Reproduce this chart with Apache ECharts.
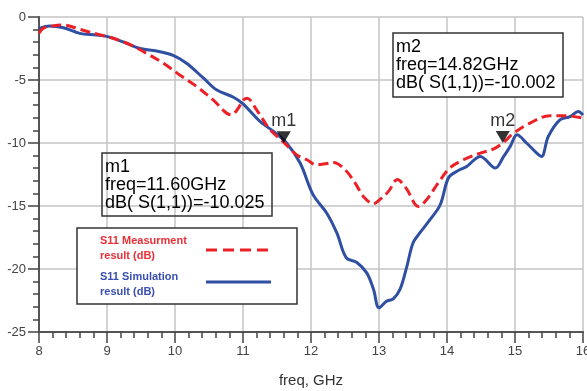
<!DOCTYPE html>
<html><head><meta charset="utf-8">
<script src="https://cdn.jsdelivr.net/npm/echarts@6/dist/echarts.min.js"></script>
<style>html,body{margin:0;padding:0;background:#fff}#c{width:587px;height:391px}</style>
</head><body><div id="c"></div>
<script>
// ---- data ----
const measFreq = [8.00,8.06,8.20,8.36,8.60,8.85,9.09,9.34,9.58,9.83,10.07,10.32,10.56,10.83,10.93,11.00,11.06,11.20,11.40,11.60,11.79,11.94,12.08,12.20,12.33,12.50,12.65,12.77,12.92,13.01,13.14,13.27,13.40,13.58,13.70,13.87,14.04,14.24,14.49,14.68,14.82,14.98,15.22,15.51,15.76,16.00];
const measDB   = [-1.30,-0.90,-0.72,-0.63,-0.98,-1.35,-1.69,-2.20,-2.88,-3.67,-4.60,-5.52,-6.58,-7.77,-7.24,-6.60,-6.44,-7.37,-8.95,-9.95,-10.94,-11.33,-11.73,-11.65,-11.54,-12.12,-13.18,-14.24,-14.82,-14.50,-13.84,-12.90,-13.60,-15.03,-14.50,-13.18,-11.99,-11.33,-10.80,-10.48,-10.00,-9.22,-8.42,-7.84,-7.84,-8.03];
const simFreq  = [8.00,8.16,8.36,8.60,8.85,9.04,9.29,9.49,9.73,9.98,10.17,10.42,10.61,10.86,11.00,11.25,11.45,11.64,11.84,12.03,12.23,12.38,12.52,12.67,12.82,12.92,13.00,13.11,13.21,13.31,13.41,13.50,13.60,13.75,13.90,14.02,14.14,14.29,14.49,14.71,14.83,14.93,15.03,15.17,15.32,15.39,15.49,15.66,15.81,15.93,16.00];
const simDB    = [-0.90,-0.71,-0.85,-1.30,-1.43,-1.60,-2.10,-2.50,-2.70,-3.06,-3.67,-4.86,-5.78,-6.37,-6.90,-8.29,-9.09,-10.00,-11.59,-14.10,-15.55,-17.14,-19.12,-19.46,-20.31,-21.63,-23.08,-22.56,-22.37,-21.60,-19.79,-17.93,-17.14,-16.09,-14.90,-12.78,-12.26,-11.86,-11.07,-11.99,-11.10,-10.27,-9.35,-10.00,-10.80,-11.07,-9.48,-8.16,-7.90,-7.50,-7.77];
const markerNames = ['m1','m2'];
const markerFreq  = [11.60, 14.82];
const markerDB    = [-10.025, -10.002];
const seriesNames = ['S11 Measurment\nresult (dB)', 'S11 Simulation\nresult (dB)'];
const xLabel = 'freq, GHz';

const FONT = 'Arial, "Liberation Sans", sans-serif';
const RED = '#ec2027', BLUE = '#2f4fa3';
const zip = (a,b) => a.map((v,i)=>[v,b[i]]);
const boxText = i => markerNames[i] + '\nfreq=' + markerFreq[i].toFixed(2) + 'GHz\ndB( S(1,1))=' + markerDB[i].toFixed(3);

const chart = echarts.init(document.getElementById('c'), null, {renderer:'canvas'});
chart.setOption({
  animation:false,
  backgroundColor:'#fff',
  grid:{left:39,right:4,top:17,bottom:59,containLabel:false,outerBoundsMode:'none'},
  xAxis:{type:'value',min:8,max:16,interval:1,
    name:xLabel,nameLocation:'middle',nameGap:41,
    nameTextStyle:{fontFamily:FONT,fontSize:15,color:'#333'},
    axisLine:{show:true,onZero:false,lineStyle:{color:'#555',width:2}},
    axisTick:{show:true,inside:false,length:11,lineStyle:{color:'#444',width:1.5}},
    minorTick:{show:true,splitNumber:5,length:6,lineStyle:{color:'#444',width:1.5}},
    axisLabel:{margin:13,fontFamily:FONT,fontSize:13,color:'#444',hideOverlap:false},
    splitLine:{show:true,lineStyle:{color:'#c4c4c4',width:1.5}}},
  yAxis:{type:'value',min:-25,max:0,interval:5,
    axisLine:{show:true,onZero:false,lineStyle:{color:'#555',width:2}},
    axisTick:{show:true,inside:false,length:11,lineStyle:{color:'#444',width:1.5}},
    minorTick:{show:true,splitNumber:5,length:6,lineStyle:{color:'#444',width:1.5}},
    axisLabel:{margin:13,fontFamily:FONT,fontSize:13,color:'#444'},
    splitLine:{show:true,lineStyle:{color:'#c4c4c4',width:1.5}}},
  series:[
    {name:seriesNames[0],type:'line',data:zip(measFreq,measDB),smooth:0.35,showSymbol:false,
      lineStyle:{color:RED,width:3,type:[10,5]},z:3},
    {name:seriesNames[1],type:'line',data:zip(simFreq,simDB),smooth:0.35,showSymbol:false,
      lineStyle:{color:BLUE,width:3},z:2},
    {type:'scatter',data:zip(markerFreq,markerDB).map((p,i)=>({value:p,name:markerNames[i]})),
      symbol:'path://M0,0 L14,0 L7,12 Z',symbolSize:[14,12],symbolOffset:[0,-6],
      itemStyle:{color:'#000'},z:5,
      label:{show:true,position:'top',distance:1,formatter:p=>p.name,fontFamily:FONT,fontSize:18,color:'#000'}}
  ],
  graphic:[
    {type:'rect',shape:{x:102,y:153,width:170,height:63},style:{fill:'none',stroke:'#333',lineWidth:1.5},z:10},
    {type:'text',x:105,y:158,style:{text:boxText(0),font:'18px '+FONT,lineHeight:18,fill:'#000'},z:10},
    {type:'rect',shape:{x:393,y:33,width:170,height:64},style:{fill:'#fff',stroke:'#333',lineWidth:1.5},z:10},
    {type:'text',x:396,y:38,style:{text:boxText(1),font:'18px '+FONT,lineHeight:18,fill:'#000'},z:11},
    {type:'rect',shape:{x:77,y:228,width:220,height:76},style:{fill:'#fff',stroke:'#333',lineWidth:1.5},z:10},
    {type:'text',x:100,y:234,style:{text:seriesNames[0],font:'bold 11px '+FONT,lineHeight:14.5,fill:'#e83038'},z:11},
    {type:'text',x:100,y:270,style:{text:seriesNames[1],font:'bold 11px '+FONT,lineHeight:14.5,fill:'#3a4fb0'},z:11},
    {type:'line',shape:{x1:206,y1:250,x2:271,y2:250},style:{stroke:RED,lineWidth:3,lineDash:[11,6]},z:11},
    {type:'line',shape:{x1:206,y1:282,x2:271,y2:282},style:{stroke:BLUE,lineWidth:3},z:11}
  ]
});
</script></body></html>
